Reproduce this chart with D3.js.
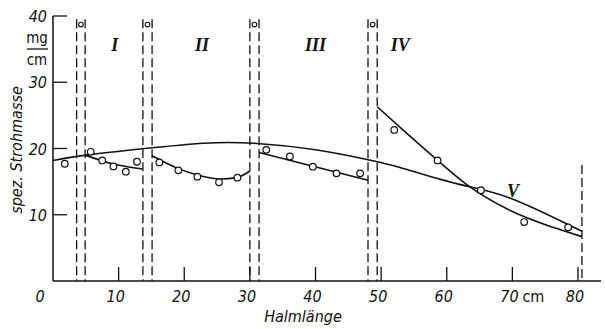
<!DOCTYPE html>
<html>
<head>
<meta charset="utf-8">
<script src="https://cdn.jsdelivr.net/npm/d3@7"></script>
<style>
  body { margin: 0; background: #fff; }
  svg { display: block; }
  .lbl { font-family: "Liberation Sans Narrow", "DejaVu Sans Condensed", "Liberation Sans", sans-serif; font-style: italic; fill: #111; }
  .roman { font-family: "Liberation Serif", "DejaVu Serif", serif; font-style: italic; font-weight: bold; fill: #111; }
</style>
</head>
<body>
<div id="chart"></div>
<script>
// axis ticks
const xTicks = [0, 10, 20, 30, 40, 50, 60, 70, 80];
const yTicks = [0, 10, 20, 30, 40];

// section boundaries (pairs of dashed lines), cm
const sectionPairs = [[3.6, 4.9], [13.7, 15.1], [30.0, 31.4], [48.0, 49.4]];
const endLine = 80.6;

// roman section labels [text, x, y]
const romanLabels = [["I", 9.4, 35.6], ["II", 22.7, 35.6], ["III", 40.0, 35.6], ["IV", 52.9, 35.6], ["V", 70.1, 13.6]];

// measured points per section [x, y]
const pointsI = [[1.8, 17.7], [5.75, 19.5], [7.5, 18.2], [9.2, 17.3], [11.1, 16.5], [12.8, 18.0]];
const pointsII = [[16.2, 17.9], [19.1, 16.7], [22.0, 15.75], [25.3, 14.9], [28.1, 15.6]];
const pointsIII = [[32.5, 19.8], [36.1, 18.8], [39.6, 17.25], [43.2, 16.25], [46.8, 16.25]];
const pointsIV = [[52.0, 22.8], [58.6, 18.2], [65.2, 13.7], [71.8, 8.9], [78.5, 8.1]];

// fitted curves [x, y]
const curveV = [[0, 18.2], [5, 19.0], [14, 20.0], [23, 20.8], [30.5, 20.8], [40, 19.8], [48, 18.3], [53, 17.1], [61.5, 14.7], [69.7, 12.5], [80.6, 7.5]];
const curveI = [[4.9, 19.0], [9, 17.7], [13.7, 16.9]];
const curveII = [[15.1, 18.9], [19, 17.0], [22, 16.0], [25.5, 15.4], [28, 15.6], [30, 16.6]];
const curveIII = [[31.4, 19.4], [48.0, 15.2]];
const curveIV = [[49.4, 26.3], [54, 22.2], [58.5, 18.3], [63, 14.6], [70, 10.5], [76.2, 8.1], [80.6, 6.7]];

const W = 605, H = 329;
const svg = d3.select("#chart").append("svg").attr("width", W).attr("height", H);

const x = d3.scaleLinear().domain([0, 80]).range([53, 578]);
const y = d3.scaleLinear().domain([0, 40]).range([281, 16]);

const ink = "#111";

// axes lines
svg.append("line").attr("x1", x(0)).attr("x2", 601).attr("y1", y(0)).attr("y2", y(0))
  .attr("stroke", ink).attr("stroke-width", 1.5);
svg.append("line").attr("x1", x(0)).attr("x2", x(0)).attr("y1", y(0)).attr("y2", y(40))
  .attr("stroke", ink).attr("stroke-width", 1.5);

// ticks (inward)
svg.selectAll("line.xt").data(xTicks.filter(d => d > 0)).join("line")
  .attr("class", "xt")
  .attr("x1", d => x(d)).attr("x2", d => x(d))
  .attr("y1", y(0)).attr("y2", y(0) - 14)
  .attr("stroke", ink).attr("stroke-width", 1.3);
svg.selectAll("line.yt").data(yTicks.filter(d => d > 0)).join("line")
  .attr("class", "yt")
  .attr("x1", x(0)).attr("x2", x(0) + 14)
  .attr("y1", d => y(d)).attr("y2", d => y(d))
  .attr("stroke", ink).attr("stroke-width", 1.3);

// tick labels
svg.selectAll("text.xl").data(xTicks).join("text")
  .attr("class", "lbl xl")
  .attr("x", d => d === 0 ? 40 : x(d) - 3)
  .attr("y", 302)
  .attr("text-anchor", "middle")
  .attr("font-size", 16)
  .text(d => d);
svg.append("text").attr("class", "lbl").attr("x", x(70) + 10).attr("y", 302)
  .attr("font-size", 16).style("font-style", "normal").text("cm");

svg.selectAll("text.yl").data(yTicks.filter(d => d > 0)).join("text")
  .attr("class", "lbl yl")
  .attr("x", 47)
  .attr("y", d => y(d) + 6)
  .attr("text-anchor", "end")
  .attr("font-size", 16)
  .text(d => d);

// unit fraction mg/cm
svg.append("text").attr("class", "lbl").attr("x", 37).attr("y", 43)
  .attr("text-anchor", "middle").attr("font-size", 15).style("font-style", "normal").text("mg");
svg.append("line").attr("x1", 27).attr("x2", 48).attr("y1", 49).attr("y2", 49)
  .attr("stroke", ink).attr("stroke-width", 1.3);
svg.append("text").attr("class", "lbl").attr("x", 37).attr("y", 65)
  .attr("text-anchor", "middle").attr("font-size", 15).style("font-style", "normal").text("cm");

// axis titles
svg.append("text").attr("class", "lbl")
  .attr("transform", "translate(22,150) rotate(-90)")
  .attr("text-anchor", "middle").attr("font-size", 16)
  .text("spez. Strohmasse");
svg.append("text").attr("class", "lbl")
  .attr("x", 303).attr("y", 322)
  .attr("text-anchor", "middle").attr("font-size", 16)
  .text("Halmlänge");

// dashed section boundaries
const dashTop = 39.5;
sectionPairs.forEach(pair => {
  pair.forEach(v => {
    svg.append("line")
      .attr("x1", x(v)).attr("x2", x(v))
      .attr("y1", y(dashTop)).attr("y2", y(0))
      .attr("stroke", ink).attr("stroke-width", 1.3)
      .attr("stroke-dasharray", "9,4");
  });
  svg.append("circle")
    .attr("cx", x((pair[0] + pair[1]) / 2)).attr("cy", y(38.7)).attr("r", 2.3)
    .attr("fill", "none").attr("stroke", ink).attr("stroke-width", 1.1);
});
svg.append("line")
  .attr("x1", x(endLine)).attr("x2", x(endLine))
  .attr("y1", y(17.5)).attr("y2", y(0))
  .attr("stroke", ink).attr("stroke-width", 1.3)
  .attr("stroke-dasharray", "9,4");

// fitted curves: long trend smooth, section fits monotone
const smooth = d3.line().x(d => x(d[0])).y(d => y(d[1])).curve(d3.curveNatural);
const mono = d3.line().x(d => x(d[0])).y(d => y(d[1])).curve(d3.curveMonotoneX);
svg.append("path").attr("d", smooth(curveV))
  .attr("fill", "none").attr("stroke", ink).attr("stroke-width", 1.6);
[curveI, curveII, curveIII, curveIV].forEach(c => {
  svg.append("path").attr("d", mono(c))
    .attr("fill", "none").attr("stroke", ink).attr("stroke-width", 1.6);
});

// measured points
[pointsI, pointsII, pointsIII, pointsIV].forEach(pts => {
  svg.selectAll(null).data(pts).join("circle")
    .attr("cx", d => x(d[0])).attr("cy", d => y(d[1])).attr("r", 3.3)
    .attr("fill", "#fff").attr("stroke", ink).attr("stroke-width", 1.2);
});

// roman labels
svg.selectAll("text.roman").data(romanLabels).join("text")
  .attr("class", "roman")
  .attr("x", d => x(d[1])).attr("y", d => y(d[2]) + 6)
  .attr("text-anchor", "middle")
  .attr("font-size", 18)
  .text(d => d[0]);
</script>
</body>
</html>
